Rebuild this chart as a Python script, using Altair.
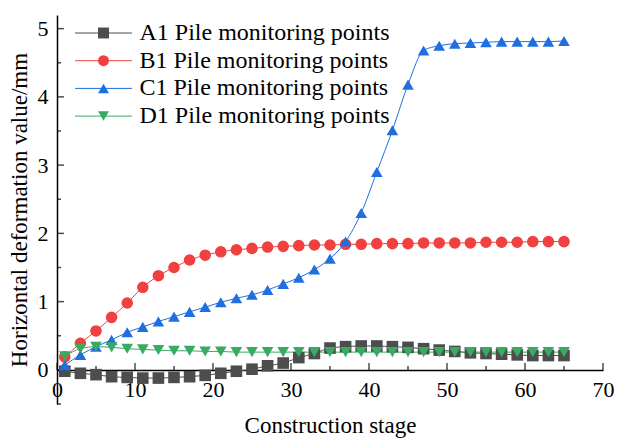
import altair as alt
import pandas as pd

stages = [1, 3, 5, 7, 9, 11, 13, 15, 17, 19, 21, 23, 25, 27, 29, 31, 33,
          35, 37, 39, 41, 43, 45, 47, 49, 51, 53, 55, 57, 59, 61, 63, 65]

a1 = [-0.02, -0.05, -0.07, -0.10, -0.11, -0.12, -0.12, -0.11, -0.10, -0.08, -0.05,
      -0.02, 0.01, 0.06, 0.10, 0.18, 0.24, 0.32, 0.34, 0.35, 0.35, 0.34, 0.33,
      0.31, 0.29, 0.27, 0.25, 0.24, 0.23, 0.22, 0.21, 0.21, 0.21]
b1 = [0.19, 0.39, 0.57, 0.77, 0.98, 1.21, 1.38, 1.50, 1.61, 1.68, 1.73, 1.76,
      1.78, 1.80, 1.81, 1.82, 1.83, 1.83, 1.84, 1.84, 1.85, 1.85, 1.85, 1.86,
      1.86, 1.86, 1.86, 1.87, 1.87, 1.87, 1.88, 1.88, 1.88]
c1 = [0.07, 0.22, 0.34, 0.44, 0.55, 0.63, 0.71, 0.78, 0.85, 0.92, 0.99, 1.05,
      1.10, 1.17, 1.26, 1.35, 1.47, 1.63, 1.88, 2.30, 2.90, 3.51, 4.18, 4.68,
      4.75, 4.78, 4.79, 4.80, 4.81, 4.81, 4.81, 4.81, 4.82]
d1 = [0.20, 0.31, 0.34, 0.33, 0.31, 0.30, 0.29, 0.28, 0.28, 0.27, 0.27, 0.26,
      0.26, 0.26, 0.26, 0.26, 0.26, 0.26, 0.26, 0.26, 0.26, 0.26, 0.26, 0.26,
      0.26, 0.26, 0.26, 0.26, 0.26, 0.26, 0.26, 0.26, 0.26]

names = ["A1 Pile monitoring points", "B1 Pile monitoring points",
         "C1 Pile monitoring points", "D1 Pile monitoring points"]
colors = ["#4d4d4d", "#f04040", "#1f6fe0", "#38aa62"]
shapes = ["square", "circle", "triangle-up", "triangle-down"]

x_major = [0, 10, 20, 30, 40, 50, 60, 70]
x_minor = [5, 15, 25, 35, 45, 55, 65]
y_major = [0, 1, 2, 3, 4, 5]
y_minor = [-0.5, 0.5, 1.5, 2.5, 3.5, 4.5]

rows = []
for name, vals in zip(names, [a1, b1, c1, d1]):
    for s, v in zip(stages, vals):
        rows.append({"series": name, "series_pt": name, "stage": s, "value": v})
df = pd.DataFrame(rows)

FONT = "Liberation Serif"
W, H = 546, 389
YMIN, YMAX = -0.5, 5.2
zero_offset = -(0 - YMIN) / (YMAX - YMIN) * H

xscale = alt.Scale(domain=[0, 70], nice=False, zero=False)
yscale = alt.Scale(domain=[YMIN, YMAX], nice=False, zero=False)

x_enc = alt.X("stage:Q", scale=xscale, axis=alt.Axis(
    values=x_major, format="d", ticks=False, offset=zero_offset,
    domainColor="black", domainWidth=1.5, grid=False, labelFont=FONT,
    labelFontSize=22, labelColor="black", labelPadding=10, labelFlush=False,
    labelOverlap=False, title="Construction stage", titleFont=FONT,
    titleFontSize=23, titleFontWeight="normal", titleColor="black",
    titlePadding=14))
y_enc = alt.Y("value:Q", scale=yscale, axis=alt.Axis(
    values=y_major, format="d", ticks=False, domainColor="black",
    domainWidth=1.5, grid=False, labelFont=FONT, labelFontSize=22,
    labelColor="black", labelPadding=9, labelFlush=False, labelOverlap=False,
    title="Horizontal deformation value/mm", titleFont=FONT, titleFontSize=23,
    titleFontWeight="normal", titleColor="black", titlePadding=6))

LX, LY = 34.5, 6
line_legend = alt.Legend(
    title=None, orient="none", legendX=LX, legendY=LY, padding=0,
    symbolType="M-5.2,0H5.2", symbolSize=120, symbolStrokeWidth=1,
    labelFont=FONT, labelFontSize=24, labelColor="black", labelOffset=24,
    labelLimit=500, rowPadding=3.7)
pt_legend = alt.Legend(
    title=None, orient="none", legendX=LX, legendY=LY, padding=0,
    symbolSize=120, symbolStrokeWidth=0, symbolOpacity=1,
    labelFont=FONT, labelFontSize=24, labelOpacity=0, labelOffset=24,
    labelLimit=500, rowPadding=3.7)

lines = alt.Chart(df).mark_line(strokeWidth=1, interpolate="monotone").encode(
    x=x_enc, y=y_enc,
    color=alt.Color("series:N", scale=alt.Scale(domain=names, range=colors),
                    legend=line_legend),
)
points = alt.Chart(df).mark_point(filled=True, size=135, opacity=1).encode(
    x=alt.X("stage:Q", scale=xscale),
    y=alt.Y("value:Q", scale=yscale),
    fill=alt.Fill("series_pt:N", scale=alt.Scale(domain=names, range=colors),
                  legend=pt_legend),
    shape=alt.Shape("series_pt:N", scale=alt.Scale(domain=names, range=shapes),
                    legend=pt_legend),
)

def xticks(vals, length):
    d = pd.DataFrame({"t": vals})
    return alt.Chart(d).mark_tick(orient="vertical", size=length, thickness=1.5,
                                  color="black", yOffset=-length / 2).encode(
        x=alt.X("t:Q", scale=xscale), y=alt.datum(0))

def yticks(vals, length):
    d = pd.DataFrame({"t": vals})
    return alt.Chart(d).mark_tick(orient="horizontal", size=length, thickness=1.5,
                                  color="black", xOffset=length / 2).encode(
        y=alt.Y("t:Q", scale=yscale), x=alt.datum(0))

chart = alt.layer(
    xticks(x_major, 7), xticks(x_minor, 4), yticks(y_major, 7), yticks(y_minor, 4),
    lines, points
).resolve_scale(color="independent").properties(
    width=W, height=H,
    autosize=alt.AutoSizeParams(type="none"),
    padding={"left": 57, "top": 15, "right": 14, "bottom": 35},
    background="white",
).configure_view(stroke=None)

chart.save("out.html", embed_options={"renderer": "svg", "actions": False})
